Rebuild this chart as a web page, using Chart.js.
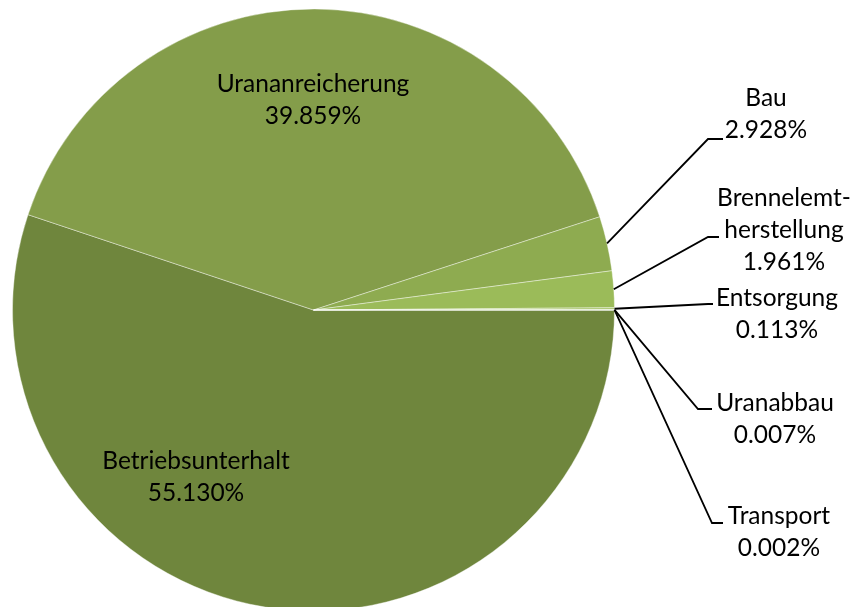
<!DOCTYPE html>
<html>
<head>
<meta charset="utf-8">
<script src="https://cdn.jsdelivr.net/npm/chart.js@4/dist/chart.umd.min.js"></script>
<style>
    html, body { margin: 0; padding: 0; background: #fff; overflow: hidden; }
    #wrap { position: relative; width: 856px; height: 620px; }
</style>
</head>
<body>
<div id="wrap"><canvas id="pieChart" width="856" height="620"></canvas></div>
<script>
// data
const categories = ['Betriebsunterhalt', 'Urananreicherung', 'Bau', 'Brennelemt-herstellung', 'Entsorgung', 'Uranabbau', 'Transport'];
const shares = [55.130, 39.859, 2.928, 1.961, 0.113, 0.007, 0.002];

// styling
const sliceColors = ['#6f863d', '#849d4a', '#8eab50', '#9bbb59', '#a8c56c', '#b5ce80', '#c2d795'];

// label placement (first baseline, centre x) and leader elbows
const labelLayout = [
    { lines: ['Betriebsunterhalt'], x: 196, y: 469 },
    { lines: ['Urananreicherung'], x: 313, y: 92 },
    { lines: ['Bau'], x: 766, y: 106, elbow: [708, 139, 723] },
    { lines: ['Brennelemt-', 'herstellung'], x: 784, y: 206, elbow: [708, 237, 719] },
    { lines: ['Entsorgung'], x: 777, y: 306, elbow: [708, 304, 713] },
    { lines: ['Uranabbau'], x: 775, y: 411, elbow: [698, 409, 712] },
    { lines: ['Transport'], x: 779, y: 524, elbow: [712, 523, 723] }
];

const FONT = '24.5px Lato';
const LINE_H = 32;

const pieLabels = {
    id: 'pieLabels',
    afterDatasetsDraw(chart) {
        const ctx = chart.ctx;
        const arcs = chart.getDatasetMeta(0).data;
        ctx.save();
        ctx.font = FONT;
        ctx.fillStyle = '#000';
        ctx.strokeStyle = '#000';
        ctx.lineWidth = 1.8;
        ctx.textAlign = 'center';
        ctx.textBaseline = 'alphabetic';
        labelLayout.forEach((lab, i) => {
            const arc = arcs[i];
            if (lab.elbow) {
                const p = arc.getProps(['x', 'y', 'startAngle', 'endAngle', 'outerRadius'], true);
                const mid = (p.startAngle + p.endAngle) / 2;
                const ax = p.x + Math.cos(mid) * p.outerRadius;
                const ay = p.y + Math.sin(mid) * p.outerRadius;
                ctx.beginPath();
                ctx.moveTo(ax, ay);
                ctx.lineTo(lab.elbow[0], lab.elbow[1]);
                ctx.lineTo(lab.elbow[2], lab.elbow[1]);
                ctx.stroke();
            }
            const lines = lab.lines.concat([shares[i].toFixed(3) + '%']);
            lines.forEach((t, k) => ctx.fillText(t, lab.x, lab.y + k * LINE_H));
        });
        ctx.restore();
    }
};

new Chart(document.getElementById('pieChart'), {
    type: 'pie',
    data: {
        labels: categories,
        datasets: [{
            data: shares,
            backgroundColor: sliceColors,
            borderColor: 'rgba(255,255,255,0.4)',
            borderWidth: 1
        }]
    },
    options: {
        responsive: false,
        animation: false,
        rotation: 90,
        layout: { padding: { left: 12, right: 241, top: 8, bottom: 8 } },
        plugins: {
            legend: { display: false },
            tooltip: { enabled: false }
        }
    },
    plugins: [pieLabels]
});
</script>
</body>
</html>
